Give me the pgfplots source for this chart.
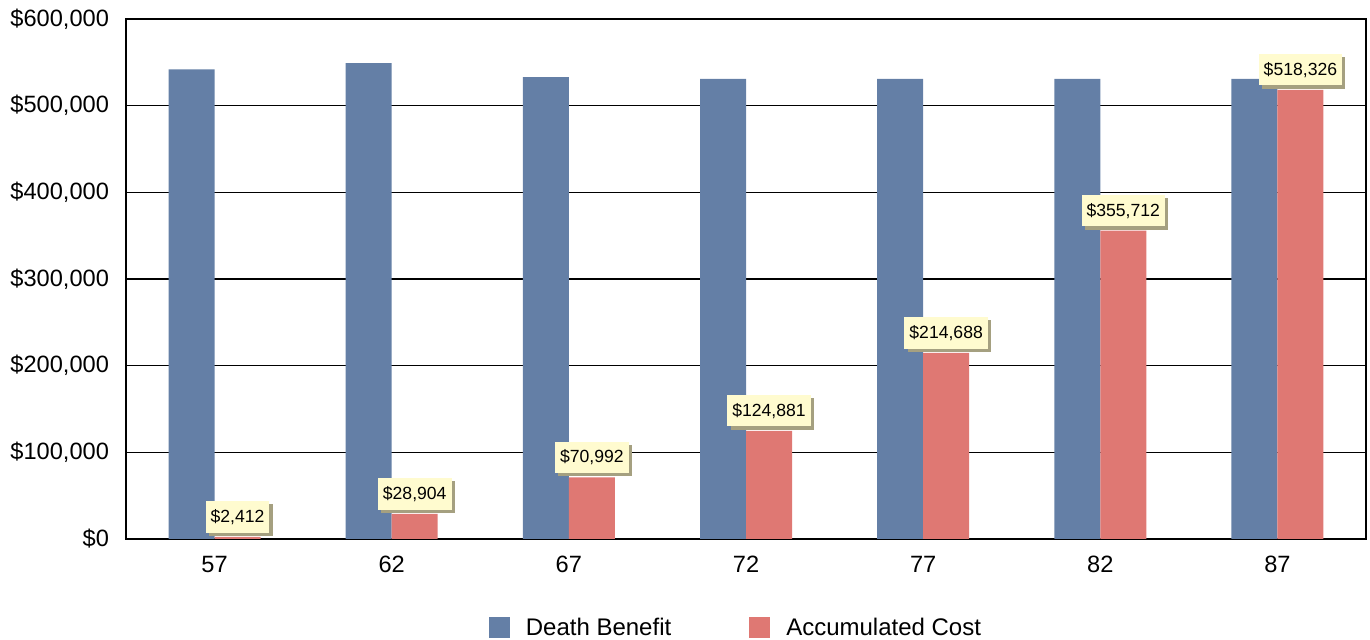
\documentclass[border=0pt]{standalone}
\usepackage{pgfplots}
\pgfplotsset{compat=1.18}
\usepackage{fontspec}
\setmainfont{Liberation Sans}
\usetikzlibrary{shadows}
\definecolor{dbblue}{RGB}{100,127,166}
\definecolor{acred}{RGB}{223,120,115}
\definecolor{lblfill}{RGB}{255,251,207}
\definecolor{lblshadow}{RGB}{165,160,128}
\begin{document}
\begin{tikzpicture}
\begin{axis}[
  scale only axis,
  width=620pt, height=260pt,
  ybar=0pt, bar width=23pt,
  xmin=-0.5, xmax=6.5,
  ymin=0, ymax=600000,
  xtick={0,1,2,3,4,5,6},
  xticklabels={57,62,67,72,77,82,87},
  ytick={0,100000,200000,300000,400000,500000,600000},
  scaled y ticks=false,
  /pgf/number format/.cd, fixed, precision=0, 1000 sep={,}, assume math mode=true,
  /pgfplots/.cd,
  yticklabel={\$\pgfmathprintnumber{\tick}},
  ymajorgrids, major grid style={black, line width=0.7pt},
  axis line style={black, line width=1pt},
  major tick length=0pt,
  ticklabel style={font=\fontsize{11.8}{14}\selectfont},
  yticklabel style={xshift=-5pt},
  xticklabel style={yshift=-5pt},
  legend style={at={(0.4927,-0.171)}, anchor=center, draw=none, legend columns=2,
    font=\fontsize{12}{14}\selectfont,
    /tikz/every even column/.append style={column sep=37pt}},
  legend image code/.code={\fill[#1] (0pt,-5.25pt) rectangle (10.5pt,5.25pt); \path (16.5pt,0pt);},
]
\addplot[fill=dbblue, draw=none] coordinates {(0,542000) (1,549000) (2,533000) (3,531000) (4,531000) (5,531000) (6,531000)};
\addlegendentry{Death Benefit}
\addplot[fill=acred, draw=none,
  nodes near coords={\$\pgfmathprintnumber{\pgfplotspointmeta}},
  every node near coord/.append style={font=\fontsize{8.8}{10}\selectfont, text=black,
    fill=lblfill, inner xsep=2.5pt, inner ysep=4pt, anchor=south, yshift=2pt,
    drop shadow={shadow xshift=1.6pt, shadow yshift=-1.6pt, fill=lblshadow, opacity=1}}
] coordinates {(0,2412) (1,28904) (2,70992) (3,124881) (4,214688) (5,355712) (6,518326)};
\addlegendentry{Accumulated Cost}
\end{axis}
\pgfresetboundingbox
\path[use as bounding box] (-63pt,-50.5pt) rectangle (622pt,269.5pt);
\end{tikzpicture}
\end{document}
